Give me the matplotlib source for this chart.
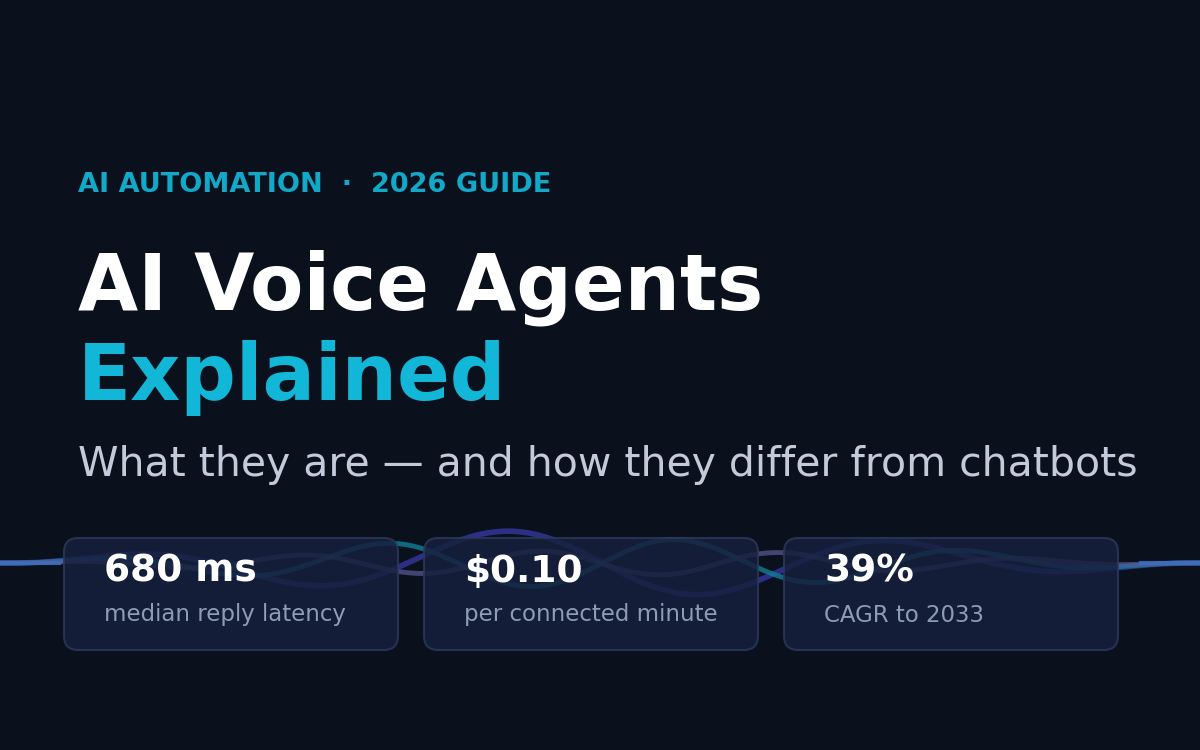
import numpy as np
import matplotlib
matplotlib.use("Agg")
import matplotlib.pyplot as plt
from matplotlib.patches import FancyBboxPatch

header = "AI AUTOMATION  ·  2026 GUIDE"
title1 = "AI Voice Agents"
title2 = "Explained"
subtitle = "What they are — and how they differ from chatbots"
stat_values = ["680 ms", "$0.10", "39%"]
stat_labels = ["median reply latency", "per connected minute", "CAGR to 2033"]

BG = "#0a111d"
fig = plt.figure(figsize=(12, 7.5), dpi=100, facecolor=BG)
ax = fig.add_axes([0, 0, 1, 1])
ax.set_xlim(0, 1200); ax.set_ylim(750, 0); ax.axis("off")
ax.set_facecolor(BG)

# decorative waves
x = np.linspace(0, 1200, 1200)
env = np.sin(np.pi * x / 1200) ** 1.2
waves = [  # (amp, period, phase peak x, color, alpha, lw)
    (33, 390, 505, "#3a3aa8", 0.75, 4),
    (24, 290, 675, "#127f99", 0.8, 3.5),
    (12, 240, 540, "#5a5a96", 0.7, 3.5),
]
for amp, per, px, c, a, lw in waves:
    y = 563 - amp * env * np.cos(2 * np.pi * (x - px) / per)
    ax.plot(x, y, color=c, alpha=a, lw=lw, solid_capstyle="round", zorder=1)
ax.plot(x[:60], np.full(60, 563.0), color="#3f6fc0", lw=3, alpha=0.8, zorder=1)
ax.plot(x[-60:], np.full(60, 563.0), color="#3f6fc0", lw=3, alpha=0.8, zorder=1)

ax.text(78, 185, header, color="#12a9c9", fontsize=19.5, fontweight="bold", va="center")
ax.text(78, 288, title1, color="white", fontsize=56, fontweight="bold", va="center")
ax.text(78, 378, title2, color="#12b6d6", fontsize=56, fontweight="bold", va="center")
ax.text(78, 465, subtitle, color="#c3cbdb", fontsize=29.5, va="center")

for i, (v, l) in enumerate(zip(stat_values, stat_labels)):
    x0 = 64 + i * 360
    box = FancyBboxPatch((x0, 538), 334, 112, boxstyle="round,pad=0,rounding_size=14",
                         fc="#16203d", ec="#2c3758", lw=1.5, alpha=0.85, zorder=2)
    ax.add_patch(box)
    ax.text(x0 + 40, 572, v, color="white", fontsize=27, fontweight="bold", va="center", zorder=3)
    ax.text(x0 + 40, 615, l, color="#8e9bb5", fontsize=16.5, va="center", zorder=3)

fig.savefig("out.png", dpi=100, facecolor=BG)
